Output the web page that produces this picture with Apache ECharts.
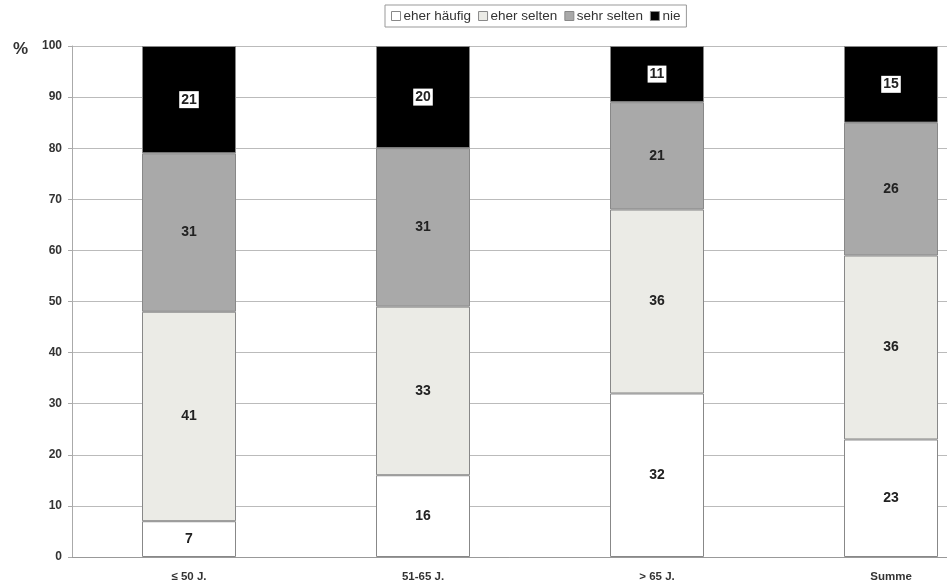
<!DOCTYPE html>
<html><head><meta charset="utf-8">
<script src="https://cdn.jsdelivr.net/npm/echarts@6/dist/echarts.min.js"></script>
<style>html,body{margin:0;padding:0;background:#fff}#c{width:947px;height:588px}</style>
</head><body><div id="c"></div>
<script>
const categories = ['≤ 50 J.', '51-65 J.', '> 65 J.', 'Summe'];
const seriesNames = ['eher häufig', 'eher selten', 'sehr selten', 'nie'];
const eherHaeufig = [7, 16, 32, 23];
const eherSelten = [41, 33, 36, 36];
const sehrSelten = [31, 31, 21, 26];
const nie = [21, 20, 11, 15];
const yTicks = [0, 10, 20, 30, 40, 50, 60, 70, 80, 90, 100];

const colors = ['#ffffff', '#ebebe6', '#a9a9a9', '#000000'];
const dataSets = [eherHaeufig, eherSelten, sehrSelten, nie];

const chart = echarts.init(document.getElementById('c'));
chart.setOption({
  animation: false,
  backgroundColor: '#fff',
  legend: {
    top: 5, left: 385,
    icon: 'rect',
    itemWidth: 9, itemHeight: 9, itemGap: 7,
    borderColor: '#999', borderWidth: 1, padding: [4, 6],
    textStyle: { fontFamily: 'Liberation Sans, Arial', fontSize: 13.5, color: '#333', padding: [0, 0, 0, -2] },
    data: seriesNames.map((n, i) => ({ name: n, itemStyle: { color: colors[i], borderColor: '#888', borderWidth: 1 } }))
  },
  grid: { left: 72, top: 46, width: 936, height: 511, containLabel: false, outerBoundsMode: 'none' },
  xAxis: {
    type: 'category', data: categories,
    axisLine: { lineStyle: { color: '#999' } },
    axisTick: { show: false },
    axisLabel: { margin: 14, fontFamily: 'Liberation Sans, Arial', fontWeight: 'bold', fontSize: 11.5, color: '#333' }
  },
  yAxis: {
    type: 'value', min: 0, max: 100, interval: 10,
    name: '%', nameLocation: 'end', nameGap: 0,
    nameTextStyle: { fontFamily: 'Liberation Sans, Arial', fontWeight: 'bold', fontSize: 17, color: '#333', align: 'right', padding: [0, 44, -12, 0] },
    axisLine: { show: true, lineStyle: { color: '#aaa' } },
    axisTick: { show: true, length: 4, lineStyle: { color: '#aaa' } },
    splitLine: { lineStyle: { color: '#bbb' } },
    axisLabel: { margin: 10, fontFamily: 'Liberation Sans, Arial', fontWeight: 'bold', fontSize: 12, color: '#333',
      formatter: v => yTicks.includes(v) ? String(v) : '' }
  },
  series: dataSets.map((d, i) => ({
    name: seriesNames[i], type: 'bar', stack: 'a', barWidth: 94, data: d,
    itemStyle: { color: colors[i], borderColor: '#888', borderWidth: 1 },
    label: {
      show: true, position: 'inside',
      fontFamily: 'Liberation Sans, Arial', fontWeight: 'bold', fontSize: 14, color: '#222',
      backgroundColor: i === 3 ? '#fff' : 'transparent',
      padding: i === 3 ? [2, 2, 1, 2] : 0
    }
  }))
});
</script></body></html>
